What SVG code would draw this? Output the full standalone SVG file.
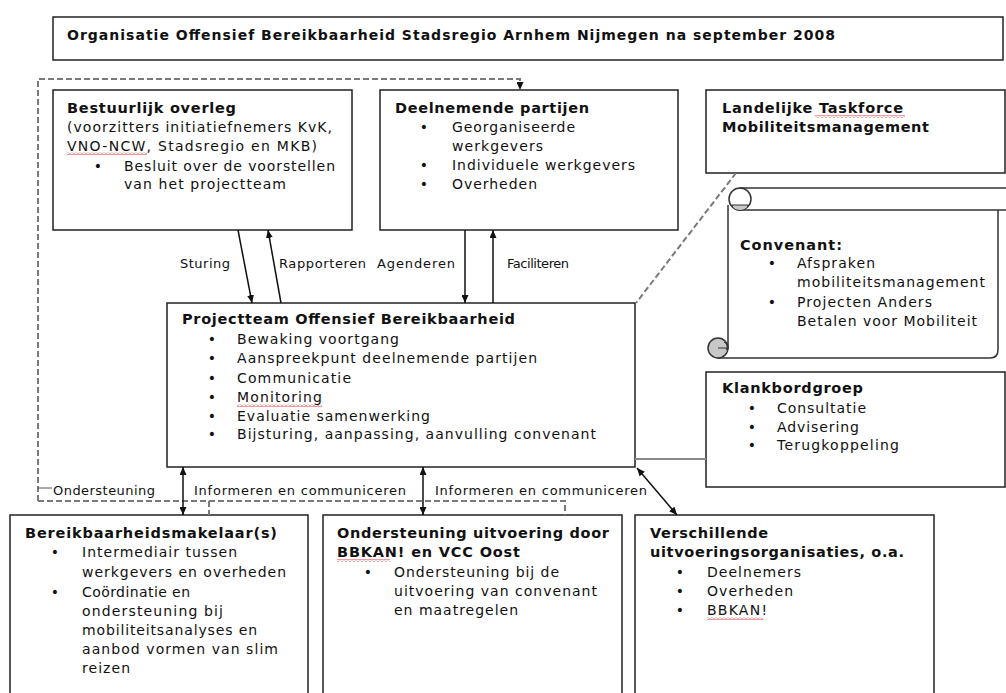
<svg xmlns="http://www.w3.org/2000/svg" width="1006" height="693" viewBox="0 0 1006 693">
<style>
.box{fill:#fff;stroke:#222;stroke-width:1.5}
.t{font-family:"DejaVu Sans",Verdana,sans-serif;font-size:14px;fill:#111}
.b{font-family:"DejaVu Sans",Verdana,sans-serif;font-size:14.5px;font-weight:bold;fill:#111}
.ti{font-family:"DejaVu Sans",Verdana,sans-serif;font-size:14px;font-weight:bold;fill:#111}
.l{font-family:"DejaVu Sans",Verdana,sans-serif;font-size:13px;fill:#111}
.bul{font-family:"DejaVu Sans",Verdana,sans-serif;font-size:14px;fill:#111;text-anchor:middle}
.arr{fill:none;stroke:#111;stroke-width:1.5}
.dash{fill:none;stroke:#7a7a7a;stroke-width:2;stroke-dasharray:6 3}
.sq{fill:url(#squig)}
</style>
<defs>
<marker id="ah" viewBox="0 0 8 7" refX="8" refY="3.5" markerWidth="8" markerHeight="7" markerUnits="userSpaceOnUse" orient="auto-start-reverse">
<path d="M0,0 L8,3.5 L0,7 z" fill="#111"/>
</marker>
<pattern id="squig" width="4" height="3" patternUnits="userSpaceOnUse">
<path d="M0,2.5 L2,0.5 L4,2.5" fill="none" stroke="#e02020" stroke-width="0.9"/>
</pattern>
</defs>
<rect width="1006" height="693" fill="#fff"/>

<g id="title">
<rect class="box" x="53" y="17" width="950" height="43"/>
<text class="ti" x="67" y="40" textLength="768">Organisatie Offensief Bereikbaarheid Stadsregio Arnhem Nijmegen na september 2008</text>
</g>

<g id="bestuurlijk">
<rect class="box" x="53" y="90" width="299" height="140"/>
<text class="b" x="67" y="113" textLength="169">Bestuurlijk overleg</text>
<text class="t" x="67" y="132" textLength="265">(voorzitters initiatiefnemers KvK,</text>
<text class="t" x="67" y="151" textLength="250">VNO-NCW, Stadsregio en MKB)</text>
<rect class="sq" x="67" y="152" width="80" height="3"/>
<text class="bul" x="98" y="171">•</text>
<text class="t" x="124" y="171" textLength="211">Besluit over de voorstellen</text>
<text class="t" x="124" y="189" textLength="162">van het projectteam</text>
</g>

<g id="deelnemend">
<rect class="box" x="380" y="90" width="298" height="140"/>
<text class="b" x="395" y="113" textLength="194">Deelnemende partijen</text>
<text class="bul" x="424" y="132">•</text>
<text class="t" x="452" y="132" textLength="123">Georganiseerde</text>
<text class="t" x="452" y="151" textLength="91">werkgevers</text>
<text class="bul" x="424" y="170">•</text>
<text class="t" x="452" y="170" textLength="183">Individuele werkgevers</text>
<text class="bul" x="424" y="189">•</text>
<text class="t" x="452" y="189" textLength="85">Overheden</text>
</g>

<g id="landelijk">
<rect class="box" x="706" y="90" width="299" height="83"/>
<text class="b" x="722" y="113" textLength="181">Landelijke Taskforce</text>
<rect class="sq" x="815" y="115" width="90" height="3"/>
<text class="b" x="722" y="132" textLength="207">Mobiliteitsmanagement</text>
</g>

<g id="convenant">
<path d="M728,205 V348 H718 V358 H990 Q998,358 998,350 V210" fill="#fff" stroke="#333" stroke-width="1.5"/>
<path d="M740,188 H1010 V210 H740 z" fill="#fff" stroke="#333" stroke-width="1.5"/>
<circle cx="740" cy="199" r="11" fill="#fff" stroke="#333" stroke-width="1.5"/>
<path d="M732,205 A8,5.5 0 0 0 748,205 Z" fill="#c8c8c8" stroke="#333" stroke-width="1"/>
<circle cx="718" cy="348" r="10" fill="#c8c8c8" stroke="#333" stroke-width="1.5"/>
<path d="M718,348 H728 M724,342 A5,5 0 0 1 726,350" fill="none" stroke="#333" stroke-width="1"/>
<text class="b" x="740" y="250" textLength="102">Convenant:</text>
<text class="bul" x="772" y="268">•</text>
<text class="t" x="797" y="268" textLength="78">Afspraken</text>
<text class="t" x="797" y="287" textLength="188">mobiliteitsmanagement</text>
<text class="bul" x="772" y="307">•</text>
<text class="t" x="797" y="307" textLength="135">Projecten Anders</text>
<text class="t" x="797" y="326" textLength="180">Betalen voor Mobiliteit</text>
</g>

<g id="klankbord">
<rect class="box" x="706" y="372" width="299" height="115"/>
<text class="b" x="722" y="393" textLength="141">Klankbordgroep</text>
<text class="bul" x="752" y="413">•</text>
<text class="t" x="777" y="413" textLength="89">Consultatie</text>
<text class="bul" x="752" y="432">•</text>
<text class="t" x="777" y="432" textLength="82">Advisering</text>
<text class="bul" x="752" y="450">•</text>
<text class="t" x="777" y="450" textLength="122">Terugkoppeling</text>
</g>

<g id="projectteam">
<rect class="box" x="167" y="303" width="468" height="164"/>
<text class="b" x="182" y="324" textLength="333">Projectteam Offensief Bereikbaarheid</text>
<text class="bul" x="212" y="344">•</text>
<text class="t" x="237" y="344" textLength="162">Bewaking voortgang</text>
<text class="bul" x="212" y="363">•</text>
<text class="t" x="237" y="363" textLength="300">Aanspreekpunt deelnemende partijen</text>
<text class="bul" x="212" y="383">•</text>
<text class="t" x="237" y="383" textLength="114">Communicatie</text>
<text class="bul" x="212" y="402">•</text>
<text class="t" x="237" y="402" textLength="85">Monitoring</text>
<rect class="sq" x="237" y="404" width="85" height="3"/>
<text class="bul" x="212" y="421">•</text>
<text class="t" x="237" y="421" textLength="193">Evaluatie samenwerking</text>
<text class="bul" x="212" y="439">•</text>
<text class="t" x="237" y="439" textLength="359">Bijsturing, aanpassing, aanvulling convenant</text>
</g>

<g id="makelaar">
<rect class="box" x="10" y="515" width="298" height="200"/>
<text class="b" x="25" y="538" textLength="252">Bereikbaarheidsmakelaar(s)</text>
<text class="bul" x="55" y="557">•</text>
<text class="t" x="82" y="557" textLength="155">Intermediair tussen</text>
<text class="t" x="82" y="577" textLength="204">werkgevers en overheden</text>
<text class="bul" x="55" y="597">•</text>
<text class="t" x="82" y="597" textLength="108">Coördinatie en</text>
<text class="t" x="82" y="616" textLength="141">ondersteuning bij</text>
<text class="t" x="82" y="635" textLength="175">mobiliteitsanalyses en</text>
<text class="t" x="82" y="654" textLength="196">aanbod vormen van slim</text>
<text class="t" x="82" y="673" textLength="48">reizen</text>
</g>

<g id="ondersteuning">
<rect class="box" x="323" y="515" width="299" height="200"/>
<text class="b" x="337" y="538" textLength="272">Ondersteuning uitvoering door</text>
<text class="b" x="337" y="557" textLength="183">BBKAN! en VCC Oost</text>
<rect class="sq" x="337" y="559" width="53" height="3"/>
<text class="bul" x="368" y="577">•</text>
<text class="t" x="394" y="577" textLength="165">Ondersteuning bij de</text>
<text class="t" x="394" y="596" textLength="203">uitvoering van convenant</text>
<text class="t" x="394" y="615" textLength="124">en maatregelen</text>
</g>

<g id="uitvoering">
<rect class="box" x="635" y="515" width="299" height="200"/>
<text class="b" x="650" y="538" textLength="118">Verschillende</text>
<text class="b" x="650" y="557" textLength="254">uitvoeringsorganisaties, o.a.</text>
<text class="bul" x="680" y="577">•</text>
<text class="t" x="707" y="577" textLength="94">Deelnemers</text>
<text class="bul" x="680" y="596">•</text>
<text class="t" x="707" y="596" textLength="86">Overheden</text>
<text class="bul" x="680" y="615">•</text>
<text class="t" x="707" y="615" textLength="60">BBKAN!</text>
<rect class="sq" x="707" y="617" width="56" height="3"/>
</g>

<g id="connectors">
<path class="dash" d="M38,501 V79 H520 V84"/>
<path d="M520,79 V90" fill="none" stroke="none" marker-end="url(#ah)"/>
<path class="dash" d="M38,501 H565 V515"/>
<path class="dash" d="M209,501 V515"/>
<path class="dash" d="M736,173 L636,303"/>
<path d="M38,488 H52" stroke="#555" stroke-width="1"/>
<path d="M635,459 H706" stroke="#888" stroke-width="2"/>
<line class="arr" x1="238" y1="230" x2="252" y2="303" marker-end="url(#ah)"/>
<line class="arr" x1="281" y1="303" x2="268" y2="230" marker-end="url(#ah)"/>
<line class="arr" x1="465" y1="230" x2="465" y2="303" marker-end="url(#ah)"/>
<line class="arr" x1="493" y1="303" x2="493" y2="230" marker-end="url(#ah)"/>
<line class="arr" x1="183" y1="467" x2="183" y2="515" marker-start="url(#ah)" marker-end="url(#ah)"/>
<line class="arr" x1="423" y1="467" x2="423" y2="515" marker-start="url(#ah)" marker-end="url(#ah)"/>
<line class="arr" x1="637" y1="468" x2="677" y2="515" marker-start="url(#ah)" marker-end="url(#ah)"/>
<text class="l" x="180" y="268" textLength="50">Sturing</text>
<text class="l" x="279" y="268" textLength="87">Rapporteren</text>
<text class="l" x="377" y="268" textLength="78">Agenderen</text>
<text class="l" x="507" y="268" textLength="62">Faciliteren</text>
<text class="l" x="53" y="495" textLength="102">Ondersteuning</text>
<text class="l" x="194" y="495" textLength="212">Informeren en communiceren</text>
<text class="l" x="435" y="495" textLength="212">Informeren en communiceren</text>
</g>
</svg>
